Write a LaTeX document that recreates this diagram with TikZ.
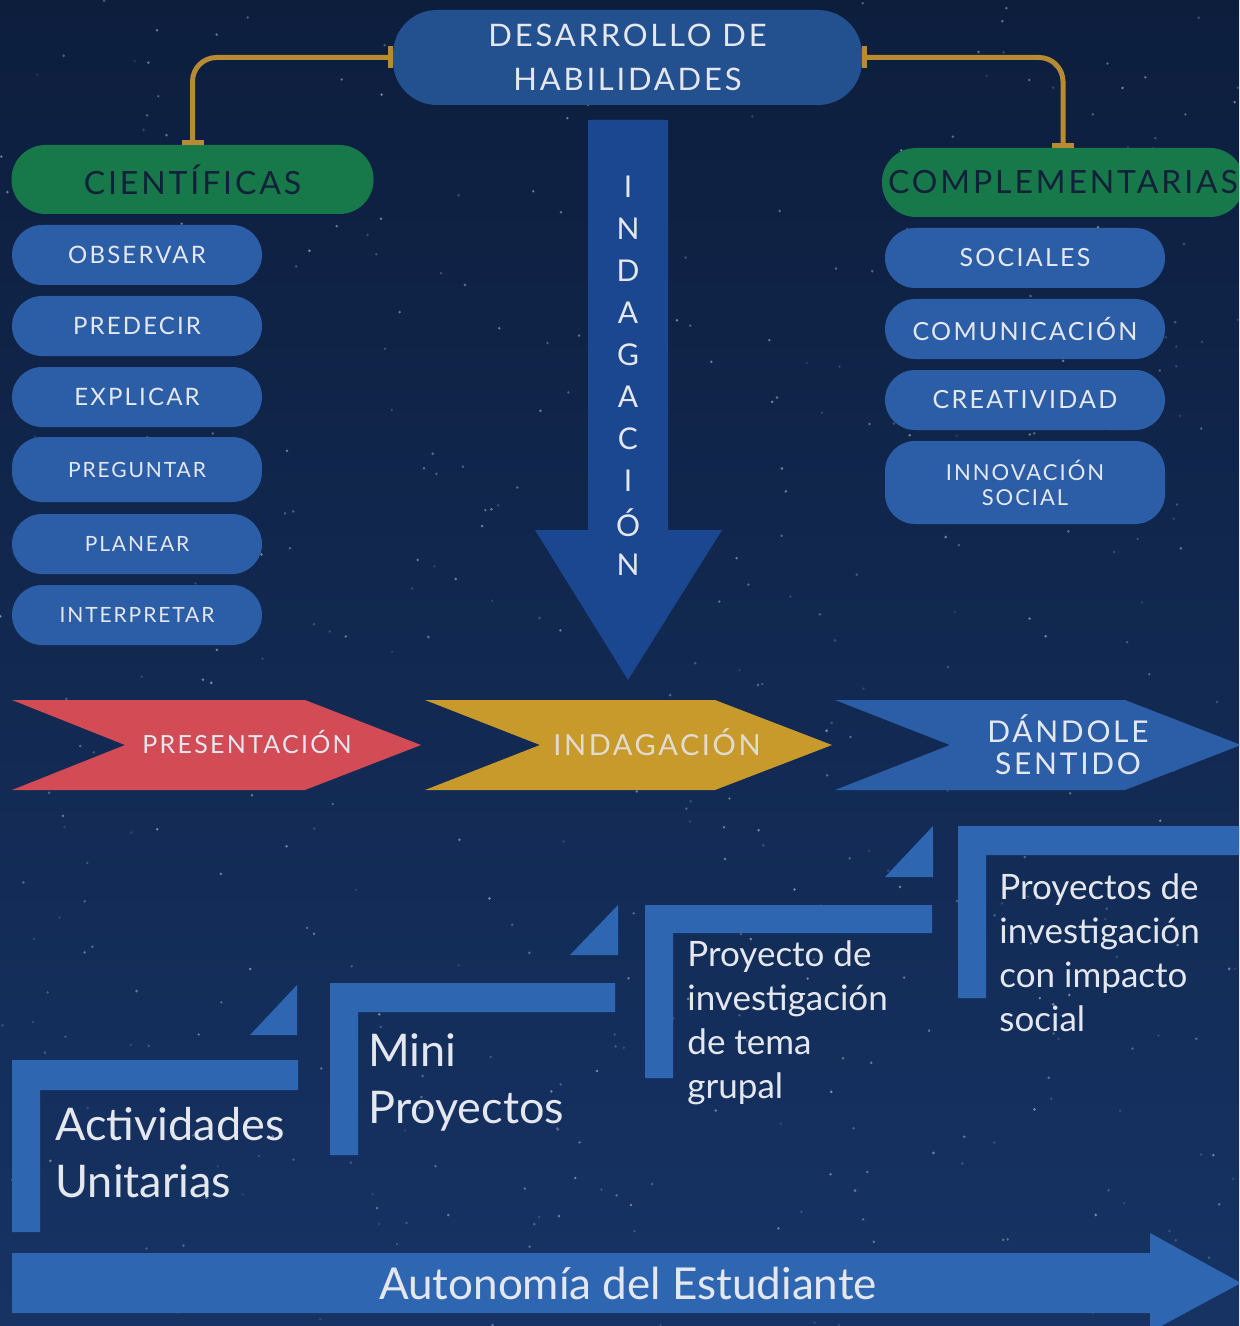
\documentclass[tikz,border=0pt]{standalone}
\usepackage{fontspec}
\setmainfont{Lato}
\newfontfamily\capsfont[LetterSpace=9]{Lato}
\usetikzlibrary{arrows.meta}
\definecolor{fondo}{HTML}{0D1E3D}
\definecolor{fondob}{HTML}{163364}
\definecolor{azul}{HTML}{2C5EA8}
\definecolor{azulosc}{HTML}{23508F}
\definecolor{flecha}{HTML}{1B4690}
\definecolor{verde}{HTML}{17794A}
\definecolor{oro}{HTML}{B78A34}
\definecolor{rojo}{HTML}{D24B55}
\definecolor{amarillo}{HTML}{C89A2C}
\definecolor{escalon}{HTML}{2E66B2}
\definecolor{texto}{HTML}{E4E7EE}
\definecolor{oscuro}{HTML}{13203A}

\begin{document}
\begin{tikzpicture}[x=0.5pt, y=-0.5pt,
	pill/.style={fill=azul, rounded corners=15pt, text=texto, minimum width=125pt, minimum height=30pt, inner sep=0pt, align=center},
	grupo/.style={fill=verde, rounded corners=17pt, text=oscuro, minimum width=181pt, minimum height=34.5pt, inner sep=0pt, font=\capsfont\fontsize{16}{18}\selectfont},
	conector/.style={draw=oro, line width=2.5pt, rounded corners=12pt, {Bar[width=11pt]}-{Bar[width=11pt]}},
	etiqueta/.style={text=texto, inner sep=0pt, align=center},
	paso/.style={text=texto, inner sep=0pt, align=left, anchor=west}]
	\useasboundingbox (0,0) rectangle (1239,1326);
	\clip (0,0) rectangle (1239,1326);
	\shade[top color=fondo, bottom color=fondob] (0,0) rectangle (1239,1326);
	% estrellas
	\pgfmathsetseed{17}
	\foreach \s in {1,...,520} {
		\pgfmathsetmacro\sx{rnd*1239}
		\pgfmathsetmacro\sy{rnd*1326}
		\pgfmathsetmacro\so{0.1+0.35*rnd}
		\fill[white, opacity=\so] (\sx,\sy) circle (0.7pt);
	}

	% flecha indagacion
	\fill[flecha] (588,120) -- (668,120) -- (668,530) -- (722,530) -- (628,680) -- (535,530) -- (588,530) -- cycle;
	\foreach \l [count=\i] in {I,N,D,A,G,A,C,I,Ó,N}
		\draw (628,{187+(\i-1)*42}) node[etiqueta, font=\capsfont\fontsize{15}{17}\selectfont] {\l};

	\draw (627.5,57.5) node[pill, fill=azulosc, rounded corners=22pt, minimum width=234.5pt, minimum height=47.5pt, font=\capsfont\fontsize{15.5}{22}\selectfont](desarrollo) {DESARROLLO DE\\HABILIDADES};
	\draw (192.5,179.5) node[grupo](cient) {CIENTÍFICAS};
	\draw (1063,182.5) node[grupo](compl) {COMPLEMENTARIAS};
	\draw[conector] (desarrollo.west) -| (cient.north);
	\draw[conector] (desarrollo.east) -| (compl.north);

	% cientificas
	\draw (137,255) node[pill, font=\capsfont\fontsize{12}{14}\selectfont](obs) {OBSERVAR};
	\draw (137,326) node[pill, font=\capsfont\fontsize{12}{14}\selectfont](pred) {PREDECIR};
	\draw (137,397) node[pill, font=\capsfont\fontsize{12}{14}\selectfont](expl) {EXPLICAR};
	\draw (137,469.5) node[pill, minimum height=32.5pt, font=\capsfont\fontsize{10.5}{12}\selectfont](preg) {PREGUNTAR};
	\draw (137,544) node[pill, font=\capsfont\fontsize{10.5}{12}\selectfont](plan) {PLANEAR};
	\draw (137,615) node[pill, font=\capsfont\fontsize{10.5}{12}\selectfont](inter) {INTERPRETAR};

	% complementarias
	\draw (1025,258) node[pill, minimum width=140pt, font=\capsfont\fontsize{12.5}{14}\selectfont](soc) {SOCIALES};
	\draw (1025,329) node[pill, minimum width=140pt, font=\capsfont\fontsize{12.5}{14}\selectfont](comu) {COMUNICACIÓN};
	\draw (1025,400) node[pill, minimum width=140pt, font=\capsfont\fontsize{12.5}{14}\selectfont](crea) {CREATIVIDAD};
	\draw (1025,482.5) node[pill, minimum width=140pt, minimum height=41.5pt, font=\capsfont\fontsize{11}{12.5}\selectfont](innov) {INNOVACIÓN\\SOCIAL};

	% fases
	\fill[rojo] (12,700) -- (305,700) -- (421,745) -- (305,790) -- (12,790) -- (125,745) -- cycle;
	\fill[amarillo] (425,700) -- (715,700) -- (832,745) -- (715,790) -- (425,790) -- (540,745) -- cycle;
	\fill[azul] (835,700) -- (1125,700) -- (1241,745) -- (1125,790) -- (835,790) -- (950,745) -- cycle;
	\draw (247,742) node[etiqueta, font=\capsfont\fontsize{12.5}{14}\selectfont](pres) {PRESENTACIÓN};
	\draw (657,742) node[etiqueta, text=texto!85!amarillo, font=\capsfont\fontsize{14.5}{16}\selectfont](indag) {INDAGACIÓN};
	\draw (1068,745) node[etiqueta, font=\capsfont\fontsize{15}{16}\selectfont](sentido) {DÁNDOLE\\SENTIDO};

	% escalones
	\fill[escalon] (12,1060) -- (298,1060) -- (298,1090) -- (40,1090) -- (40,1232) -- (12,1232) -- cycle;
	\fill[escalon] (250,1035) -- (297,985) -- (297,1035) -- cycle;
	\fill[escalon] (330,983) -- (615,983) -- (615,1012) -- (358,1012) -- (358,1155) -- (330,1155) -- cycle;
	\fill[escalon] (570,955) -- (618,905) -- (618,955) -- cycle;
	\fill[escalon] (645,905) -- (932,905) -- (932,933) -- (673,933) -- (673,1078) -- (645,1078) -- cycle;
	\fill[escalon] (885,877) -- (933,826) -- (933,877) -- cycle;
	\fill[escalon] (958,826) -- (1239,826) -- (1239,855) -- (986,855) -- (986,998) -- (958,998) -- cycle;
	\draw (55,1153) node[paso, font=\fontsize{22.5}{28.5}\selectfont](act) {Actividades\\Unitarias};
	\draw (368,1082) node[paso, font=\fontsize{22.5}{28.5}\selectfont](mini) {Mini\\Proyectos};
	\draw (687,1023) node[paso, font=\fontsize{17.5}{22}\selectfont](grupal) {Proyecto de\\investigación\\de tema\\grupal};
	\draw (999,953) node[paso, font=\fontsize{17.5}{22}\selectfont](impacto) {Proyectos de\\investigación\\con impacto\\social};

	% autonomia
	\fill[escalon] (12,1253) -- (1150,1253) -- (1150,1233) -- (1241,1283) -- (1150,1332) -- (1150,1313) -- (12,1313) -- cycle;
	\draw (628,1283) node[etiqueta, font=\fontsize{22}{24}\selectfont](auto) {Autonomía del Estudiante};
\end{tikzpicture}
\end{document}
